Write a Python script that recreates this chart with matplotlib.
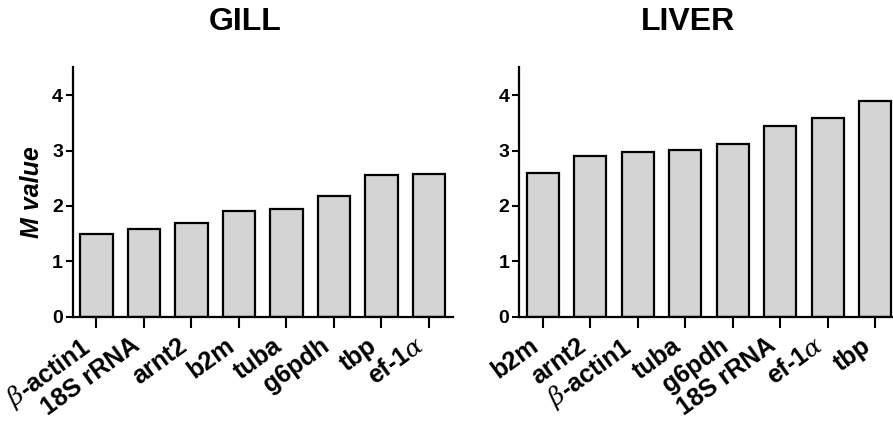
import matplotlib
matplotlib.use('Agg')
import matplotlib.pyplot as plt
import numpy as np

plt.rcParams['font.family'] = ['Liberation Sans', 'DejaVu Sans']
plt.rcParams['font.weight'] = 'bold'
plt.rcParams['mathtext.fontset'] = 'custom'
plt.rcParams['mathtext.it'] = 'DejaVu Serif:style=italic:weight=normal'
plt.rcParams['mathtext.rm'] = 'Liberation Sans:weight=bold'

# data
gill_genes = [r'$\beta$-actin1', '18S rRNA', 'arnt2', 'b2m', 'tuba', 'g6pdh', 'tbp', r'ef-1$\alpha$']
gill_m = [1.49, 1.58, 1.69, 1.91, 1.95, 2.18, 2.55, 2.58]

liver_genes = ['b2m', 'arnt2', r'$\beta$-actin1', 'tuba', 'g6pdh', '18S rRNA', r'ef-1$\alpha$', 'tbp']
liver_m = [2.59, 2.90, 2.97, 3.01, 3.12, 3.44, 3.59, 3.90]

yticks = [0, 1, 2, 3, 4]

fig = plt.figure(figsize=(8.93, 4.21), dpi=100)
ax1 = fig.add_axes([0.0814, 0.2477, 0.4255, 0.592])
ax2 = fig.add_axes([0.5812, 0.2477, 0.4255, 0.592])


def draw_panel(ax, genes, vals):
    x = np.arange(len(genes))
    ax.bar(x, vals, width=0.68, color='#d4d4d4', edgecolor='black', linewidth=1.6, zorder=2)
    ax.set_xlim(-0.5, len(genes) - 0.5)
    ax.set_ylim(0, 4.5)
    ax.set_yticks(yticks)
    ax.set_yticklabels([str(t) for t in yticks], fontsize=14, fontweight='bold')
    ax.set_xticks(x)
    ax.set_xticklabels(genes, rotation=36, ha='right', fontsize=18, fontweight='bold')
    ax.tick_params(axis='y', direction='out', length=5, width=1.5, pad=2)
    ax.tick_params(axis='x', direction='out', length=8, width=1.5, pad=4)
    ax.spines['top'].set_visible(False)
    ax.spines['right'].set_visible(False)
    ax.spines['left'].set_linewidth(1.6)
    ax.spines['bottom'].set_linewidth(1.6)


draw_panel(ax1, gill_genes, gill_m)
draw_panel(ax2, liver_genes, liver_m)

fig.text(245 / 893, 1 - 22 / 421, 'GILL', ha='center', va='center', fontsize=23, fontweight='bold')
fig.text(688 / 893, 1 - 22 / 421, 'LIVER', ha='center', va='center', fontsize=23, fontweight='bold')
fig.text(32 / 893, 1 - 192 / 421, 'M value', rotation=90, ha='center', va='center',
         fontsize=18, fontweight='bold', fontstyle='italic')

fig.savefig('out.png', dpi=100)
